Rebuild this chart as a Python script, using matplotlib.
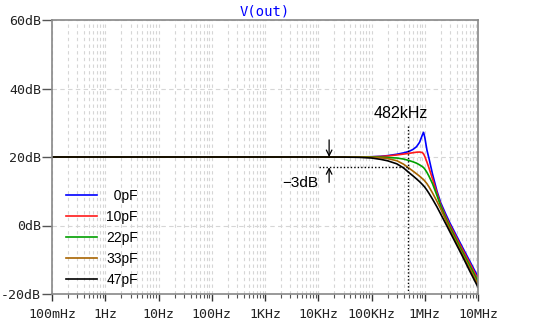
import matplotlib
matplotlib.use("Agg")
import matplotlib.pyplot as plt
from matplotlib.ticker import FixedLocator, NullFormatter

# frequency points (Hz) shared by all traces
freq = [0.1, 1e3, 1e4, 3e4, 6e4, 1e5, 1.5e5, 2e5, 3e5, 4e5, 5e5, 6e5, 7e5, 8e5,
        9e5, 9.5e5, 1e6, 1.1e6, 1.2e6, 1.4e6, 1.7e6, 2e6, 2.5e6, 3e6, 5e6, 7e6, 1e7]

# gain in dB, one list per feedback capacitor
db_0pf = [20, 20, 20, 20, 20.02, 20.08, 20.2, 20.4, 20.8, 21.2, 21.6, 22.2, 23.0, 24.3,
          26.4, 27.2, 25.8, 22.0, 19.6, 15.0, 10.0, 6.6, 3.2, 0.6, -6.1, -10.4, -15.0]
db_10pf = [20, 20, 20, 20, 20.0, 20.05, 20.15, 20.3, 20.6, 20.85, 21.05, 21.25, 21.4, 21.45,
           21.3, 20.9, 20.2, 18.5, 16.8, 13.6, 9.4, 6.0, 2.5, 0.0, -6.7, -11.0, -15.7]
db_22pf = [20, 20, 20, 20, 20, 19.98, 19.95, 19.85, 19.7, 19.4, 19.0, 18.6, 18.2, 17.7,
           17.2, 16.9, 16.5, 15.5, 14.4, 12.2, 8.7, 5.6, 2.0, -0.6, -7.4, -11.7, -16.4]
db_33pf = [20, 20, 20, 20, 19.97, 19.9, 19.75, 19.55, 18.9, 17.9, 16.8, 15.9, 15.1, 14.4,
           13.7, 13.4, 13.0, 12.2, 11.3, 9.5, 7.0, 4.8, 1.4, -1.3, -8.1, -12.5, -17.2]
db_47pf = [20, 20, 20, 19.98, 19.9, 19.7, 19.3, 18.9, 18.0, 16.8, 15.5, 14.5, 13.6, 12.8,
           12.0, 11.6, 11.2, 10.3, 9.4, 7.7, 5.4, 3.3, 0.4, -2.0, -8.7, -13.3, -18.0]

cap_labels = ["  0pF", "10pF", "22pF", "33pF", "47pF"]
trace_colors = ["#0000ff", "#ff1a1a", "#00a000", "#a86400", "#000000"]

x_ticks = [0.1, 1, 10, 100, 1e3, 1e4, 1e5, 1e6, 1e7]
x_labels = ["100mHz", "1Hz", "10Hz", "100Hz", "1KHz", "10KHz", "100KHz", "1MHz", "10MHz"]
y_ticks = [-20, 0, 20, 40, 60]
y_labels = ["-20dB", "0dB", "20dB", "40dB", "60dB"]

f_3db = 482e3

mono = "DejaVu Sans Mono"
sans = "Liberation Sans"

fig = plt.figure(figsize=(5.46, 3.23), dpi=100)
ax = fig.add_axes([52 / 546, 29 / 323, 426 / 546, 274 / 323])

for vals, lab, col in zip([db_0pf, db_10pf, db_22pf, db_33pf, db_47pf], cap_labels, trace_colors):
    ax.plot(freq, vals, color=col, lw=1.2, label=lab)

ax.set_xscale("log")
ax.set_xlim(0.1, 1e7)
ax.set_ylim(-20, 60)

# grid: every decade and sub-decade, dashed light gray
minor = [m * 10.0 ** e for e in range(-1, 7) for m in range(2, 10)]
ax.xaxis.set_major_locator(FixedLocator(x_ticks))
ax.xaxis.set_minor_locator(FixedLocator(minor))
ax.xaxis.set_minor_formatter(NullFormatter())
ax.set_xticklabels(x_labels, fontfamily=mono, fontsize=9.5, color="#222222")
ax.set_yticks(y_ticks)
ax.set_yticklabels(y_labels, fontfamily=mono, fontsize=9.5, color="#222222")
ax.grid(True, which="both", axis="x", color="#d6d6d6", ls=(0, (3, 3)), lw=0.8)
ax.grid(True, which="major", axis="y", color="#d6d6d6", ls=(0, (4, 3)), lw=0.8)
ax.set_axisbelow(True)

ax.tick_params(axis="y", which="major", direction="out", length=7, width=1, color="#555555", pad=1)
ax.tick_params(axis="x", which="major", direction="out", length=5, width=1, color="#333333", pad=5)
ax.tick_params(axis="x", which="minor", direction="out", length=3, width=0.8, color="#555555")
for s in ax.spines.values():
    s.set_color("#888888")
    s.set_linewidth(1.2)

ax.set_title("V(out)", fontfamily=mono, fontsize=10, color="#0000ff", pad=3)

# -3dB markers
ax.plot([f_3db, f_3db], [-20, 29.3], color="black", ls=(0, (1, 1.5)), lw=1)
ax.plot([1.03e4, f_3db], [17, 17], color="black", ls=(0, (1, 1.5)), lw=1)
ax.annotate("", xy=(1.6e4, 20), xytext=(1.6e4, 25),
            arrowprops=dict(arrowstyle="->", color="black", lw=0.9, shrinkA=0, shrinkB=0))
ax.annotate("", xy=(1.6e4, 17), xytext=(1.6e4, 12.6),
            arrowprops=dict(arrowstyle="->", color="black", lw=0.9, shrinkA=0, shrinkB=0))
ax.text(1.0e4, 12.4, "\u22123dB", fontfamily=sans, fontsize=11, ha="right", va="center")
ax.text(3.6e5, 32.8, "482kHz", fontfamily=sans, fontsize=11.5, ha="center", va="center")

leg = ax.legend(loc="upper left", bbox_to_anchor=(66 / 546, 1 - 189 / 323),
                bbox_transform=fig.transFigure, frameon=False, prop={"family": sans, "size": 10},
                handlelength=2.2, handletextpad=0.7, labelspacing=0.5, borderpad=0, borderaxespad=0)
for t in leg.get_texts():
    t.set_ha("right")

fig.savefig("out.png", dpi=100)
